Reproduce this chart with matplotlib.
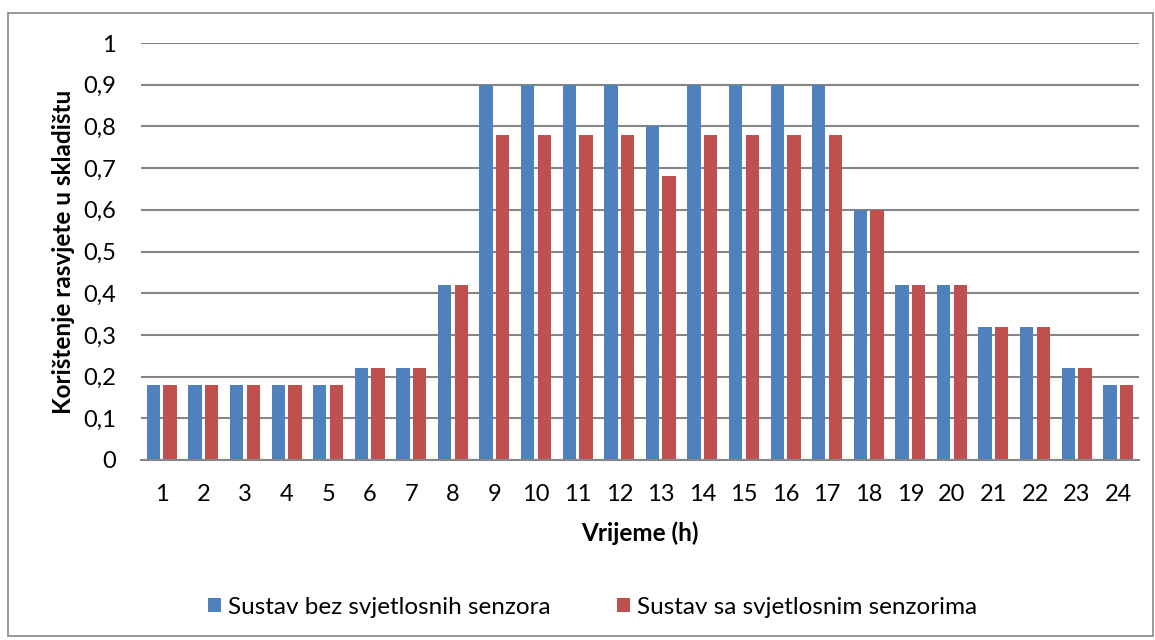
import matplotlib
matplotlib.use("Agg")
import matplotlib.pyplot as plt
import numpy as np
from matplotlib.patches import Rectangle

hours = [str(h) for h in range(1, 25)]
bez_senzora = [0.18, 0.18, 0.18, 0.18, 0.18, 0.22, 0.22, 0.42, 0.9, 0.9, 0.9, 0.9,
               0.8, 0.9, 0.9, 0.9, 0.9, 0.6, 0.42, 0.42, 0.32, 0.32, 0.22, 0.18]
sa_senzorima = [0.18, 0.18, 0.18, 0.18, 0.18, 0.22, 0.22, 0.42, 0.78, 0.78, 0.78, 0.78,
                0.68, 0.78, 0.78, 0.78, 0.78, 0.6, 0.42, 0.42, 0.32, 0.32, 0.22, 0.18]
yticks = [0, 0.1, 0.2, 0.3, 0.4, 0.5, 0.6, 0.7, 0.8, 0.9, 1]
ytick_labels = ["0", "0,1", "0,2", "0,3", "0,4", "0,5", "0,6", "0,7", "0,8", "0,9", "1"]
series_names = ["Sustav bez svjetlosnih senzora", "Sustav sa svjetlosnim senzorima"]

plt.rcParams['font.family'] = ['Lato', 'DejaVu Sans']

W, H = 1155, 640
fig = plt.figure(figsize=(W / 100, H / 100), dpi=100)
ax = fig.add_axes([141 / W, 1 - 460 / H, (1139 - 141) / W, (460 - 43) / H])

x = np.arange(len(hours))
bw = 0.32
off = 0.2
ax.bar(x - off, bez_senzora, bw, color="#4F81BD", label=series_names[0], zorder=3)
ax.bar(x + off, sa_senzorima, bw, color="#C0504D", label=series_names[1], zorder=3)

ax.set_xlim(-0.5, len(hours) - 0.5)
ax.set_ylim(0, 1)
ax.set_yticks(yticks)
ax.set_yticklabels(ytick_labels)
ax.set_xticks(x)
ax.set_xticklabels(hours)
ax.tick_params(axis="both", length=0, labelsize=17)
ax.tick_params(axis="y", pad=18)
ax.tick_params(axis="x", pad=17)
ax.yaxis.grid(True, color="#868686", linewidth=1.5, zorder=0)
for s in ["left", "right", "top"]:
    ax.spines[s].set_visible(False)
ax.spines["bottom"].set_color("#868686")
ax.spines["bottom"].set_linewidth(1.5)
ax.spines["bottom"].set_zorder(4)

ax.set_ylabel("Korištenje rasvjete u skladištu", fontsize=17.5, fontweight="bold", labelpad=6)
ax.set_xlabel("Vrijeme (h)", fontsize=17.5, fontweight="bold", labelpad=12)

fig.legend(loc="center", bbox_to_anchor=(0.513, 1 - 607 / H), ncol=2, frameon=False,
           fontsize=17.5, handlelength=0.55, handleheight=0.55, columnspacing=2.7,
           handletextpad=0.3)

fig.patches.append(Rectangle((8 / W, 1 - 636 / H), (1153 - 8) / W, (636 - 13) / H,
                             transform=fig.transFigure, fill=False, edgecolor="#888888",
                             linewidth=1.2))

fig.savefig("out.png", dpi=100)
